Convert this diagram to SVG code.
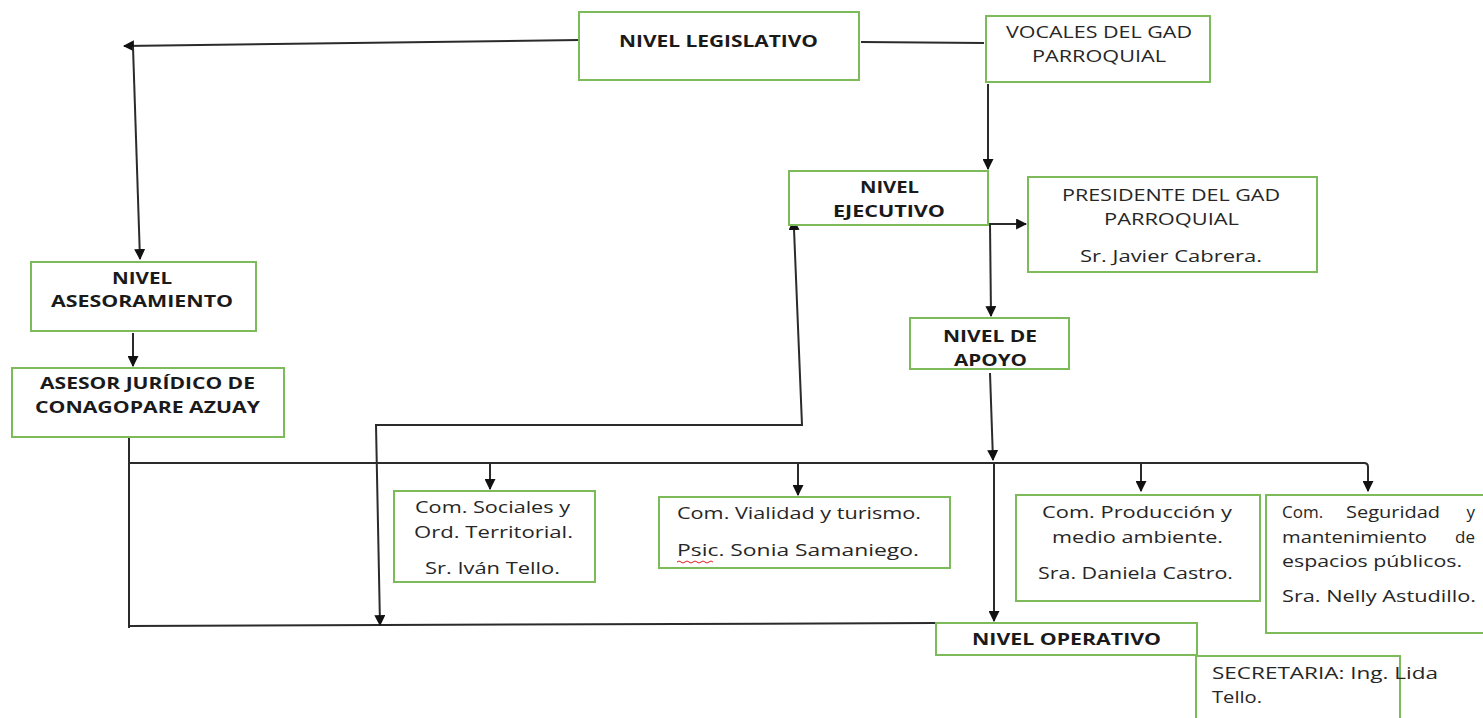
<svg xmlns="http://www.w3.org/2000/svg" width="1483" height="718" viewBox="0 0 1483 718">
<style>
.box{fill:#fff;stroke:#7DBB5A;stroke-width:2}
.t{font-family:"Open Sans","Liberation Sans",sans-serif;font-size:16px;fill:#262626}
.s{font-size:17px}
.b{font-weight:bold;fill:#1a1a1a}
.c{stroke:#2b2b2b;stroke-width:2;fill:none}
</style>
<defs>
<marker id="ah" viewBox="0 0 10 10" refX="9" refY="5" markerWidth="5.5" markerHeight="5.5" orient="auto" markerUnits="strokeWidth">
<path d="M0,0 L10,5 L0,10 Z" fill="#111"/>
</marker>
<marker id="as" viewBox="0 0 10 10" refX="1" refY="5" markerWidth="5.5" markerHeight="5.5" orient="auto-start-reverse" markerUnits="strokeWidth">
<path d="M0,0 L10,5 L0,10 Z" fill="#111"/>
</marker>
<clipPath id="apoyoClip"><rect x="911" y="319" width="157" height="49"/></clipPath>
</defs>
<rect width="1483" height="718" fill="#fff"/>
<g id="connectors">
<path class="c" d="M579,40 L124,46" marker-end="url(#ah)"/>
<path class="c" d="M133,47 L140,259" marker-end="url(#ah)"/>
<path class="c" d="M861,42 L984,43"/>
<path class="c" d="M988,84 L988,169" marker-end="url(#ah)"/>
<path class="c" d="M988,224 L1026,224" marker-end="url(#ah)"/>
<path class="c" d="M990,224 L991,316" marker-end="url(#ah)"/>
<path class="c" d="M133,333 L133,366" marker-end="url(#ah)"/>
<path class="c" d="M129,437 L129,628"/>
<path class="c" d="M129,463 L1364,463 Q1368,463 1368,467 L1368,491" marker-end="url(#ah)"/>
<path class="c" d="M490,463 L490,489" marker-end="url(#ah)"/>
<path class="c" d="M798,463 L798,495" marker-end="url(#ah)"/>
<path class="c" d="M1141,463 L1141,491" marker-end="url(#ah)"/>
<path class="c" d="M990,373 L993,460" marker-end="url(#ah)"/>
<path class="c" d="M994,463 L994,621" marker-end="url(#ah)"/>
<path class="c" d="M129,626 L936,623"/>
<path class="c" d="M794,229 L802,425 L376,425 L380,625" marker-start="url(#as)" marker-end="url(#ah)"/>
</g>
<g id="n-legislativo"><rect class="box" x="579" y="12" width="280" height="68"/><text class="t b" x="619" y="47" textLength="199" lengthAdjust="spacingAndGlyphs">NIVEL LEGISLATIVO</text></g>
<g id="n-vocales"><rect class="box" x="986" y="16" width="224" height="66"/>
<text class="t" x="1006" y="38" textLength="186" lengthAdjust="spacingAndGlyphs">VOCALES DEL GAD</text>
<text class="t" x="1032" y="62" textLength="134" lengthAdjust="spacingAndGlyphs">PARROQUIAL</text></g>
<g id="n-ejecutivo"><rect class="box" x="789" y="171" width="199" height="54"/>
<text class="t b" x="860" y="193" textLength="59" lengthAdjust="spacingAndGlyphs">NIVEL</text>
<text class="t b" x="833" y="217" textLength="112" lengthAdjust="spacingAndGlyphs">EJECUTIVO</text></g>
<g id="n-presidente"><rect class="box" x="1028" y="177" width="289" height="95"/>
<text class="t" x="1062" y="201" textLength="218" lengthAdjust="spacingAndGlyphs">PRESIDENTE DEL GAD</text>
<text class="t" x="1104" y="225" textLength="135" lengthAdjust="spacingAndGlyphs">PARROQUIAL</text>
<text class="t" x="1080" y="262" textLength="182" lengthAdjust="spacingAndGlyphs">Sr. Javier Cabrera.</text></g>
<g id="n-asesoramiento"><rect class="box" x="31" y="262" width="225" height="69"/>
<text class="t b" x="112" y="284" textLength="60" lengthAdjust="spacingAndGlyphs">NIVEL</text>
<text class="t b" x="51" y="307" textLength="182" lengthAdjust="spacingAndGlyphs">ASESORAMIENTO</text></g>
<g id="n-asesor"><rect class="box" x="12" y="368" width="272" height="69"/>
<text class="t b" x="40" y="389" textLength="215" lengthAdjust="spacingAndGlyphs">ASESOR JURÍDICO DE</text>
<text class="t b" x="35" y="413" textLength="225" lengthAdjust="spacingAndGlyphs">CONAGOPARE AZUAY</text></g>
<g id="n-apoyo"><rect class="box" x="910" y="318" width="159" height="51"/>
<g clip-path="url(#apoyoClip)">
<text class="t b" x="943" y="342" textLength="94" lengthAdjust="spacingAndGlyphs">NIVEL DE</text>
<text class="t b" x="954" y="366" textLength="73" lengthAdjust="spacingAndGlyphs">APOYO</text></g></g>
<g id="n-sociales"><rect class="box" x="394" y="491" width="201" height="91"/>
<text class="t" x="415" y="513" textLength="155" lengthAdjust="spacingAndGlyphs">Com. Sociales y</text>
<text class="t" x="414" y="538" textLength="159" lengthAdjust="spacingAndGlyphs">Ord. Territorial.</text>
<text class="t" x="425" y="574" textLength="135" lengthAdjust="spacingAndGlyphs">Sr. Iván Tello.</text></g>
<g id="n-vialidad"><rect class="box" x="659" y="497" width="291" height="71"/>
<text class="t" x="677" y="519" textLength="244" lengthAdjust="spacingAndGlyphs">Com. Vialidad y turismo.</text>
<text class="t" x="677" y="556" textLength="242" lengthAdjust="spacingAndGlyphs">Psic. Sonia Samaniego.</text>
<path d="M677,562 q2,-2 4,0 t4,0 t4,0 t4,0 t4,0 t4,0 t4,0 t4,0 t4,0" stroke="#e02020" stroke-width="1" fill="none"/></g>
<g id="n-produccion"><rect class="box" x="1016" y="495" width="244" height="106"/>
<text class="t" x="1042" y="518" textLength="190" lengthAdjust="spacingAndGlyphs">Com. Producción y</text>
<text class="t" x="1052" y="543" textLength="171" lengthAdjust="spacingAndGlyphs">medio ambiente.</text>
<text class="t" x="1038" y="579" textLength="195" lengthAdjust="spacingAndGlyphs">Sra. Daniela Castro.</text></g>
<g id="n-seguridad"><rect class="box" x="1266" y="495" width="220" height="138"/>
<text class="t s" x="1282" y="518">Com.</text>
<text class="t" x="1346" y="518" textLength="94" lengthAdjust="spacingAndGlyphs">Seguridad</text>
<text class="t s" x="1475" y="518" text-anchor="end">y</text>
<text class="t" x="1282" y="543" textLength="145" lengthAdjust="spacingAndGlyphs">mantenimiento</text>
<text class="t s" x="1475" y="543" text-anchor="end">de</text>
<text class="t" x="1282" y="567" textLength="180" lengthAdjust="spacingAndGlyphs">espacios públicos.</text>
<text class="t" x="1282" y="602" textLength="194" lengthAdjust="spacingAndGlyphs">Sra. Nelly Astudillo.</text></g>
<g id="n-operativo"><rect class="box" x="936" y="623" width="261" height="32"/>
<text class="t b" x="972" y="645" textLength="189" lengthAdjust="spacingAndGlyphs">NIVEL OPERATIVO</text></g>
<g id="n-secretaria"><rect class="box" x="1196" y="656" width="204" height="66"/>
<text class="t" x="1212" y="679" textLength="226" lengthAdjust="spacingAndGlyphs">SECRETARIA: Ing. Lida</text>
<text class="t" x="1212" y="703" textLength="50" lengthAdjust="spacingAndGlyphs">Tello.</text></g>
</svg>
